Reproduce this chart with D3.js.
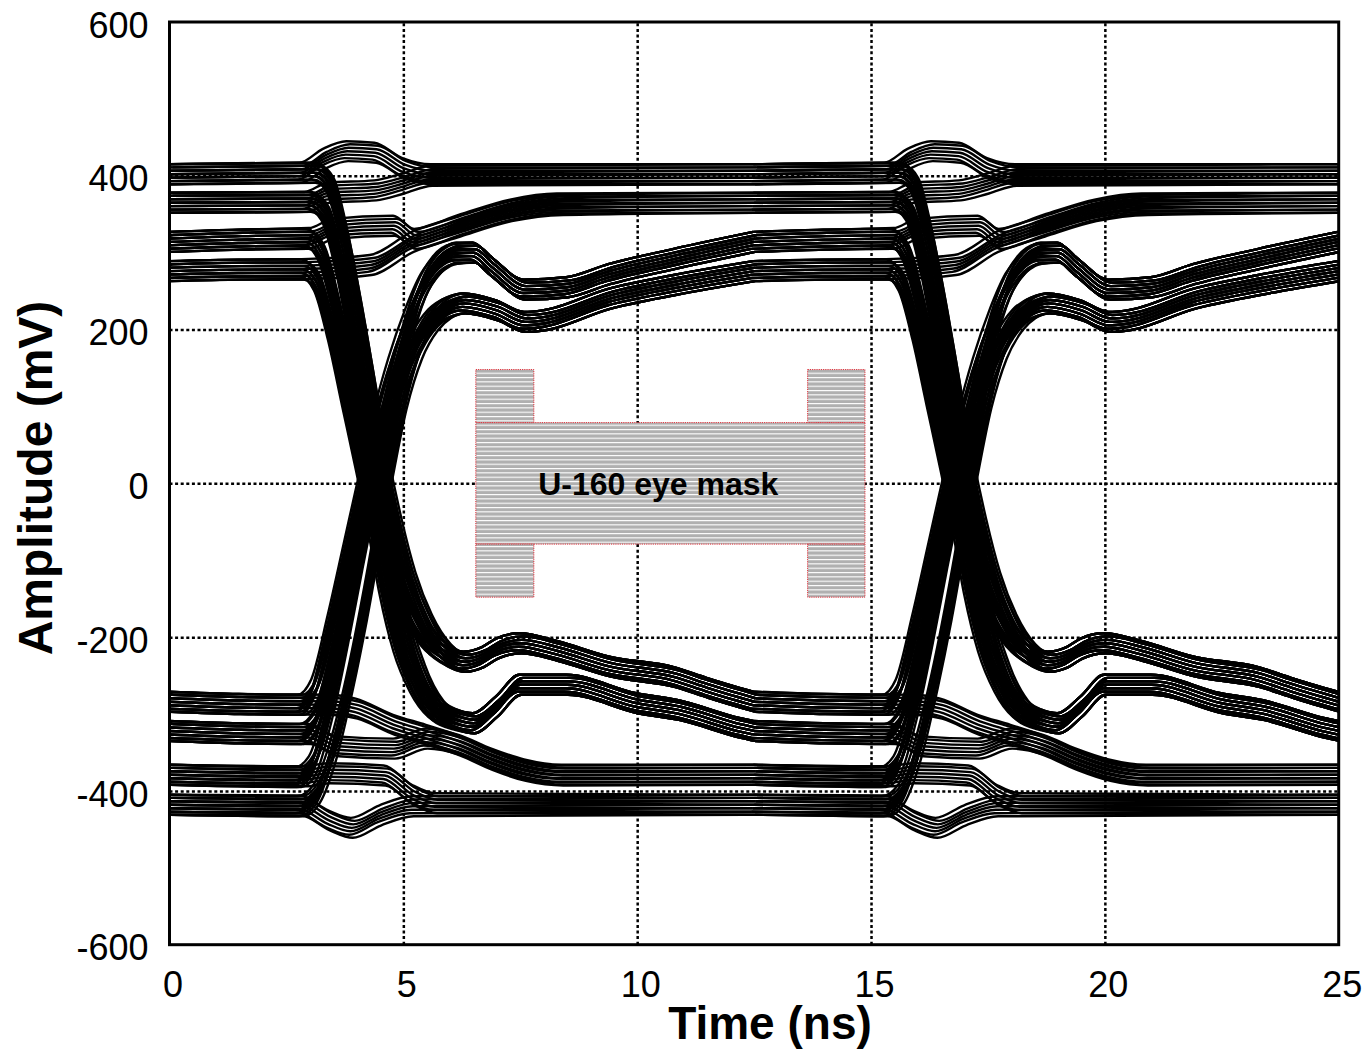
<!DOCTYPE html>
<html><head><meta charset="utf-8">
<script src="https://cdn.jsdelivr.net/npm/d3@7"></script>
<style>
html,body{margin:0;padding:0;background:#fff}
svg{display:block}
text{font-family:"Liberation Sans",Arial,Helvetica,sans-serif}
</style>
</head><body>
<script>
// ---------------- DATA ----------------
const xTicks = [0, 5, 10, 15, 20, 25];
const yTicks = [-600, -400, -200, 0, 200, 400, 600];
const xTitle = "Time (ns)";
const yTitle = "Amplitude (mV)";
const maskLabel = "U-160 eye mask";
// unit-interval offsets (ns) at which the per-bit trace shapes repeat
const unitIntervals = [-12.5, 0, 12.5, 25];

// eye mask (ns / mV)
const maskOuterT = [6.55, 14.87];
const maskInnerT = [7.79, 13.645];
const maskOuterV = 148;
const maskInnerV = 79;
const maskLabelPos = [10.45, 0];

// --- trace shapes within one unit interval: [time ns, amplitude mV] ---
// level held through the crossing
const stay400 = [[0,402],[2.8,404],[3.3,422],[3.8,432],[4.4,430],[5.0,410],[5.6,402],[12.5,402]];
const up365   = [[0,365],[2.9,366],[3.4,378],[4.4,381],[5.0,390],[5.6,400],[12.5,402]];
const up318   = [[0,314],[1.5,317],[3.0,319],[3.5,331],[4.8,335],[5.25,318],[6.2,336],[7.3,356],[8.3,364],[12.5,365]];
const up278   = [[0,276],[1.5,278],[3.0,279],[4.3,284],[5.2,314],[6.2,334],[7.3,354],[8.4,362],[12.5,365]];
const stay418 = [[0,-418],[2.8,-419],[3.4,-438],[3.9,-448],[4.5,-432],[5.2,-420],[12.5,-418]];
const down384 = [[0,-379],[2.9,-381],[3.4,-377],[4.6,-380],[5.2,-405],[5.7,-416],[12.5,-418]];
const down322 = [[0,-322],[1.5,-325],[3.0,-326],[3.6,-342],[4.8,-345],[5.5,-332],[6.2,-340],[6.9,-358],[7.6,-372],[8.4,-379],[12.5,-379]];
const down287 = [[0,-284],[1.5,-287],[3.4,-288],[4.0,-293],[4.8,-314],[5.5,-327],[6.2,-341],[6.9,-360],[7.6,-374],[8.4,-380],[12.5,-379]];

// eye-opening tails after a transition
const tailF1 = [[6.3,-232],[6.7,-226],[7.0,-215],[7.5,-208],[8.3,-218],[9.4,-238],[10.8,-252],[11.5,-266],[12.5,-284]];
const tailF2 = [[6.5,-312],[7.0,-290],[7.5,-262],[8.5,-262],[10.0,-286],[10.9,-295],[12.2,-318],[12.5,-322]];
const tailR1 = [[6.5,300],[6.9,281],[7.6,252],[8.5,255],[9.4,272],[10.8,292],[12.5,314]];
const tailR2 = [[6.3,234],[7.0,225],[7.6,210],[8.0,212],[9.4,240],[10.8,258],[12.5,276]];

// falling edges (from each upper level)
const fall400F2 = [[0,402],[3.1,404],[3.4,390],[3.7,330],[4.0,240],[4.3,135],[4.55,40],[4.8,-60],[5.05,-170],[5.4,-245],[5.8,-292],[6.15,-307]];
const fall365F2 = [[0,365],[3.0,366],[3.3,352],[3.6,290],[3.9,195],[4.2,92],[4.45,5],[4.7,-95],[4.95,-185],[5.3,-250],[5.7,-292],[6.15,-307]];
const fall318F2 = [[0,314],[1.5,317],[2.95,318],[3.25,298],[3.55,232],[3.85,142],[4.15,50],[4.4,-35],[4.65,-125],[4.9,-200],[5.25,-258],[5.65,-294],[6.1,-307]];
const fall278F2 = [[0,276],[1.5,278],[2.85,278],[3.15,260],[3.45,195],[3.75,110],[4.05,25],[4.3,-50],[4.55,-135],[4.85,-210],[5.2,-262],[5.6,-295],[6.1,-308]];
const fall400F1 = [[0,402],[3.15,404],[3.45,388],[3.75,318],[4.05,222],[4.35,118],[4.62,25],[4.9,-55],[5.2,-125],[5.55,-180],[5.95,-218]];
const fall365F1 = [[0,365],[3.05,366],[3.35,350],[3.65,282],[3.95,185],[4.25,85],[4.52,0],[4.85,-82],[5.2,-148],[5.55,-195],[5.95,-222]];
const fall318F1 = [[0,314],[1.5,317],[2.95,318],[3.25,300],[3.55,235],[3.85,150],[4.15,60],[4.42,-20],[4.72,-90],[5.05,-150],[5.4,-195],[5.85,-222]];
const fall278F1 = [[0,276],[1.5,278],[2.85,278],[3.15,262],[3.45,200],[3.75,118],[4.05,35],[4.33,-35],[4.68,-105],[5.05,-162],[5.45,-203],[5.9,-224]];

// rising edges (from each lower level)
const rise418R1 = [[0,-418],[2.75,-420],[3.1,-405],[3.45,-350],[3.8,-265],[4.1,-175],[4.38,-80],[4.62,15],[4.88,110],[5.15,195],[5.45,255],[5.8,288],[6.15,300]];
const rise384R1 = [[0,-379],[2.7,-382],[3.0,-368],[3.35,-300],[3.7,-200],[4.0,-105],[4.3,-15],[4.6,75],[4.9,155],[5.2,215],[5.5,262],[5.85,291],[6.15,300]];
const rise322R1 = [[0,-322],[1.5,-325],[2.8,-326],[3.1,-310],[3.45,-235],[3.8,-135],[4.1,-45],[4.4,40],[4.7,120],[5.0,190],[5.3,245],[5.65,282],[6.05,298]];
const rise287R1 = [[0,-284],[1.5,-287],[2.75,-288],[3.05,-268],[3.4,-185],[3.75,-90],[4.05,-8],[4.35,72],[4.7,150],[5.05,212],[5.4,260],[5.8,288],[6.15,299]];
const rise418R2 = [[0,-418],[2.85,-420],[3.2,-402],[3.55,-345],[3.9,-255],[4.2,-165],[4.48,-70],[4.75,20],[5.05,110],[5.38,175],[5.72,212],[6.0,228]];
const rise384R2 = [[0,-379],[2.8,-382],[3.1,-366],[3.45,-295],[3.8,-195],[4.1,-100],[4.4,-10],[4.75,80],[5.1,148],[5.45,195],[5.8,222],[6.05,230]];
const rise322R2 = [[0,-322],[1.5,-325],[2.85,-326],[3.15,-308],[3.5,-230],[3.85,-130],[4.15,-45],[4.45,30],[4.8,105],[5.15,165],[5.5,205],[5.85,226],[6.05,231]];
const rise287R2 = [[0,-284],[1.5,-287],[2.85,-288],[3.15,-268],[3.5,-185],[3.85,-90],[4.15,-10],[4.48,62],[4.85,130],[5.2,182],[5.55,213],[5.95,229]];

// ---------------- LAYOUT ----------------
const W = 1366, H = 1051;
const L = 169.5, R = 1338.7, T = 22, B = 944.7;

const traces = [
  stay400, up365, up318, up278, stay418, down384, down322, down287,
  fall400F2.concat(tailF2), fall365F2.concat(tailF2), fall318F2.concat(tailF2), fall278F2.concat(tailF2),
  fall400F1.concat(tailF1), fall365F1.concat(tailF1), fall318F1.concat(tailF1), fall278F1.concat(tailF1),
  rise418R1.concat(tailR1), rise384R1.concat(tailR1), rise322R1.concat(tailR1), rise287R1.concat(tailR1),
  rise418R2.concat(tailR2), rise384R2.concat(tailR2), rise322R2.concat(tailR2), rise287R2.concat(tailR2)
];
// overlaid acquisitions: small time/amplitude spread of each bundle (style)
const bundle = [[0,0],[-0.03,-4.5],[0.03,4.5],[-0.06,-9],[0.06,9],[0.02,-13],[-0.02,13]];

const svg = d3.select("body").append("svg").attr("width", W).attr("height", H);
const x = d3.scaleLinear().domain([0, 25]).range([L, R]);
const y = d3.scaleLinear().domain([-600, 600]).range([B, T]);

const defs = svg.append("defs");
defs.append("clipPath").attr("id","plotclip").append("rect")
  .attr("x", L).attr("y", T).attr("width", R - L).attr("height", B - T);
const pat = defs.append("pattern").attr("id","hatch").attr("patternUnits","userSpaceOnUse")
  .attr("width", 10).attr("height", 13/3);
pat.append("rect").attr("width",10).attr("height",13/3).attr("fill","#b0b0b0");
pat.append("rect").attr("width",10).attr("height",1.1).attr("fill","#ffffff");

// grid (dotted)
const gridX = svg.append("g").attr("transform", `translate(0,${B})`)
  .call(d3.axisBottom(x).tickValues(xTicks.filter(d => d > 0 && d < 25)).tickSize(-(B - T)).tickFormat(""));
const gridY = svg.append("g").attr("transform", `translate(${L},0)`)
  .call(d3.axisLeft(y).tickValues(yTicks.filter(d => d > -600 && d < 600)).tickSize(-(R - L)).tickFormat(""));
[gridX, gridY].forEach(g => {
  g.select(".domain").remove();
  g.selectAll("line").attr("stroke","#000").attr("stroke-width",2.5).attr("stroke-dasharray","3,2.6");
});

// mask
const maskRects = [
  [maskOuterT[0], maskOuterT[1], -maskInnerV, maskInnerV],
  [maskOuterT[0], maskInnerT[0], maskInnerV, maskOuterV],
  [maskInnerT[1], maskOuterT[1], maskInnerV, maskOuterV],
  [maskOuterT[0], maskInnerT[0], -maskOuterV, -maskInnerV],
  [maskInnerT[1], maskOuterT[1], -maskOuterV, -maskInnerV]
];
svg.append("g").selectAll("rect").data(maskRects).join("rect")
  .attr("x", d => x(d[0])).attr("width", d => x(d[1]) - x(d[0]))
  .attr("y", d => y(d[3])).attr("height", d => y(d[2]) - y(d[3]))
  .attr("fill","url(#hatch)").attr("stroke","#e0303a").attr("stroke-width",1)
  .attr("stroke-dasharray","1.2,1");

svg.append("text").attr("x", x(maskLabelPos[0])).attr("y", y(maskLabelPos[1]) + 11.5)
  .attr("text-anchor","middle").attr("font-size",32).attr("font-weight","bold").text(maskLabel);

// traces
const line = d3.line().curve(d3.curveMonotoneX);
const gT = svg.append("g").attr("clip-path","url(#plotclip)");
unitIntervals.forEach(off => {
  traces.forEach(tr => {
    bundle.forEach(([dt, dv]) => {
      gT.append("path")
        .attr("d", line(tr.map(p => [x(p[0] + off + dt), y(p[1] + dv)])))
        .attr("fill","none").attr("stroke","#000").attr("stroke-width",2.4)
        .attr("stroke-linejoin","round");
    });
  });
});

// frame
svg.append("rect").attr("x", L).attr("y", T).attr("width", R - L).attr("height", B - T)
  .attr("fill","none").attr("stroke","#000").attr("stroke-width",3);

// tick labels (plain hyphen-minus as in the reference)
const axY = svg.append("g").attr("transform", `translate(${L},0)`)
  .call(d3.axisLeft(y).tickValues(yTicks).tickSize(0).tickPadding(21).tickFormat(d => String(d)));
const axX = svg.append("g").attr("transform", `translate(0,${B})`)
  .call(d3.axisBottom(x).tickValues(xTicks).tickSize(0).tickPadding(27).tickFormat(d => String(d)));
[axX, axY].forEach(g => {
  g.select(".domain").remove();
  g.selectAll("text").attr("font-size",36).attr("fill","#000")
    .style("font-family",'"Liberation Sans",Arial,sans-serif');
});
axY.selectAll("text").attr("dy","0.42em");
axX.selectAll("text").attr("dx",3);

// axis titles
svg.append("text").attr("x", 770).attr("y", 1039).attr("text-anchor","middle")
  .attr("font-size",46).attr("font-weight","bold").text(xTitle);
svg.append("text").attr("transform","translate(52,478) rotate(-90)").attr("text-anchor","middle")
  .attr("font-size",48).attr("font-weight","bold").text(yTitle);
</script>
</body></html>
